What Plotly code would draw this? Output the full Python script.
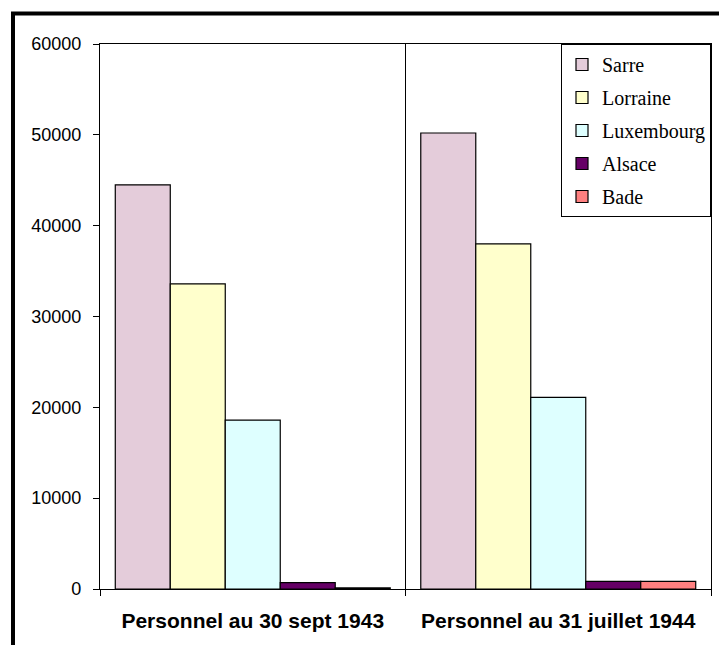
import plotly.graph_objects as go

# Data
categories = ["Personnel au 30 sept 1943", "Personnel au 31 juillet 1944"]
regions = ["Sarre", "Lorraine", "Luxembourg", "Alsace", "Bade"]
sarre = [44500, 50200]
lorraine = [33600, 38000]
luxembourg = [18600, 21100]
alsace = [700, 850]
bade = [120, 850]
y_ticks = [0, 10000, 20000, 30000, 40000, 50000, 60000]

series = [sarre, lorraine, luxembourg, alsace, bade]
colors = ["#E4CCDA", "#FFFFCC", "#DEFFFF", "#660066", "#FF8080"]

fig = go.Figure()
for name, vals, col in zip(regions, series, colors):
    fig.add_trace(go.Bar(
        x=categories, y=vals, name=name, legendgroup=name,
        marker=dict(color=col, line=dict(color="black", width=1.2)),
    ))

fig.update_layout(
    width=719, height=645,
    margin=dict(l=100, r=8, t=44, b=56),
    paper_bgcolor="white", plot_bgcolor="white",
    barmode="group", bargap=0.1, bargroupgap=0,
    font=dict(family="Liberation Sans, Arial", color="black"),
    legend=dict(
        x=1, xanchor="right", y=1, yanchor="top",
        bgcolor="white", bordercolor="black", borderwidth=1,
        font=dict(family="Liberation Serif, Times New Roman", size=20, color="black"),
        traceorder="grouped", tracegroupgap=4, itemwidth=30,
    ),
    xaxis=dict(
        tickson="boundaries", ticks="outside", ticklen=6, tickcolor="black",
        showgrid=True, gridcolor="black", gridwidth=1,
        showline=True, linecolor="black", linewidth=1.2, mirror=True,
        tickfont=dict(family="Liberation Sans, Arial", size=21, color="black", weight="bold"),
        ticklabelstandoff=13,
    ),
    yaxis=dict(
        range=[0, 60000], tickvals=y_ticks, ticktext=[str(v) for v in y_ticks],
        ticks="outside", ticklen=6, tickcolor="black",
        showgrid=False, zeroline=False,
        showline=True, linecolor="black", linewidth=1.2, mirror=True,
        tickfont=dict(family="Liberation Sans, Arial", size=18, color="black"),
        ticklabelstandoff=8,
    ),
    shapes=[dict(
        type="rect", xref="paper", yref="paper",
        x0=-0.1424, x1=1.05, y0=-0.2, y1=1.056,
        line=dict(color="black", width=4), layer="above",
    )],
)

# drop the default page margin so the figure sits at the window origin
fig.write_html("out.html", config={"displayModeBar": False},
               post_script="document.body.style.margin='0';")
